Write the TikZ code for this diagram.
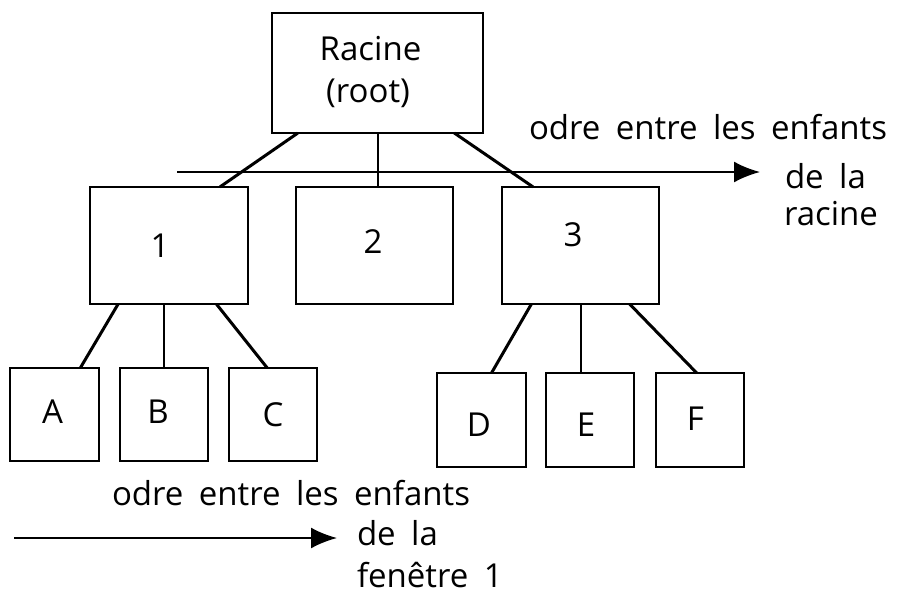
\documentclass[tikz,border=0pt]{standalone}
\usepackage{fontspec}
\setmainfont{Open Sans}[WordSpace=1.8]
\usetikzlibrary{arrows.meta}
\begin{document}
\begin{tikzpicture}[x=1pt,y=-1pt,
  box/.style={draw, line width=2.7pt, inner sep=0pt, outer sep=0pt},
  lbl/.style={font=\fontsize{33}{40}\selectfont, inner sep=0pt, outer sep=0pt},
  diag/.style={line width=3pt},
  vert/.style={line width=2pt},
  order/.style={line width=2.2pt, -{Latex[length=26pt,width=21pt]}}]
\useasboundingbox (0,0) rectangle (897,595);

% boxes
\node[box, minimum width=211pt, minimum height=120pt] (root) at (377.5,73) {};
\node[box, minimum width=158pt, minimum height=117pt] (n1) at (169,245.5) {};
\node[box, minimum width=157pt, minimum height=117pt] (n2) at (374.5,245.5) {};
\node[box, minimum width=157pt, minimum height=117pt] (n3) at (580.5,245.5) {};
\node[box, minimum width=89pt, minimum height=93pt] (A) at (54.5,414.5) {};
\node[box, minimum width=88pt, minimum height=93pt] (B) at (164,414.5) {};
\node[box, minimum width=88pt, minimum height=93pt] (C) at (273,414.5) {};
\node[box, minimum width=89pt, minimum height=94pt] (D) at (481.5,420) {};
\node[box, minimum width=88pt, minimum height=94pt] (E) at (590,420) {};
\node[box, minimum width=88pt, minimum height=94pt] (F) at (700,420) {};

% connectors
\draw[diag] (root.217.4) -- (n1.49.5);
\draw[vert] (root.south) -- (root.south |- n2.north);
\draw[diag] (root.-38.5) -- (n3.129.1);
\draw[diag] (n1.-131.6) -- (A.61.3);
\draw[vert] (B.north |- n1.south) -- (B.north);
\draw[diag] (n1.-51.2) -- (C.97.4);
\draw[diag] (n3.-130.8) -- (D.78.6);
\draw[vert] (n3.south) -- (n3.south |- E.north);
\draw[diag] (n3.-50.3) -- (F.94.9);

% order arrows
\coordinate (ra) at (177,172);
\coordinate (rb) at (760,172);
\draw[order] (ra) -- (rb);
\coordinate (fa) at (14,538);
\coordinate (fb) at (337,538);
\draw[order] (fa) -- (fb);

% box labels
\node[lbl, anchor=base] (tRac) at (370.5,60) {Racine};
\node[lbl, anchor=base] (tRoot) at (368,102) {(root)};
\node[lbl] (t1) at (160,246) {1};
\node[lbl] (t2) at (373,242) {2};
\node[lbl] (t3) at (573,235) {3};
\node[lbl] (tA) at (52.5,411.5) {A};
\node[lbl] (tB) at (158,411.5) {B};
\node[lbl] (tC) at (273,414.5) {C};
\node[lbl] (tD) at (479,424.5) {D};
\node[lbl] (tE) at (586,424.5) {E};
\node[lbl] (tF) at (695.5,418.5) {F};

% annotations
\node[lbl, anchor=base west] (tl1) at (529,139) {odre entre les enfants};
\node[lbl, anchor=base west] (tl2) at (785,188) {de la};
\node[lbl, anchor=base west] (tl3) at (784,225) {racine};
\node[lbl, anchor=base west] (bl1) at (112,505) {odre entre les enfants};
\node[lbl, anchor=base west] (bl2) at (357,545) {de la};
\node[lbl, anchor=base west] (bl3) at (357,587) {fenêtre 1};
\end{tikzpicture}
\end{document}
